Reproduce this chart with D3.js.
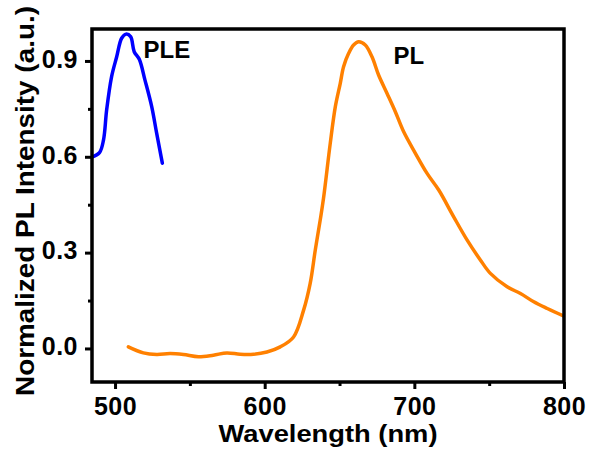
<!DOCTYPE html>
<html>
<head>
<meta charset="utf-8">
<script src="https://cdn.jsdelivr.net/npm/d3@7"></script>
<style>
  body { margin: 0; background: #fff; }
  text { font-family: "Liberation Sans", Arial, sans-serif; font-weight: bold; }
</style>
</head>
<body>
<div id="chart"></div>
<script>
// PLE spectrum (blue)
var pleWave = [484, 489.6, 492.3, 494.4, 497.7, 501.1, 504.4, 507.3, 510.4, 512.8, 516.2, 520, 524.5, 527.8, 531.6];
var pleInt  = [0.598, 0.613, 0.653, 0.747, 0.851, 0.913, 0.971, 0.984, 0.976, 0.929, 0.905, 0.840, 0.757, 0.674, 0.580];

// PL spectrum (orange)
var plWave = [508.9, 518.9, 527.9, 536.8, 545.7, 555.7, 565.7, 574.7, 583.6, 592.5, 601.5, 610.4, 619.3, 626, 630.4, 633.8,
  637.1, 639.3, 643.8, 647.2, 650.5, 652.7, 656.1, 659.4, 662.8, 667.2, 671.7, 676.1, 681.7, 687.3, 692.8, 700.7,
  708.5, 716.3, 726.3, 735.3, 744.1, 750.8, 762, 770.9, 779.8, 788.8, 800];
var plInt = [0.005, -0.014, -0.019, -0.016, -0.019, -0.026, -0.021, -0.014, -0.018, -0.018, -0.011, 0.005, 0.036, 0.120, 0.204, 0.308,
  0.402, 0.470, 0.642, 0.757, 0.830, 0.882, 0.924, 0.950, 0.960, 0.950, 0.913, 0.856, 0.799, 0.741, 0.679, 0.611,
  0.548, 0.496, 0.412, 0.339, 0.277, 0.235, 0.193, 0.172, 0.146, 0.125, 0.101];

var xTicks = [500, 600, 700, 800];
var xMinor = [550, 650, 750];
var yTicks = [0.0, 0.3, 0.6, 0.9];
var yMinor = [0.15, 0.45, 0.75];

// svg / plot box
var w = 589, h = 450;
var pLeft = 92, pRight = 564, pTop = 29, pBottom = 382;

var svg = d3.select("#chart").append("svg").attr("width", w).attr("height", h);

var x = d3.scaleLinear().domain([484.6, 800]).range([pLeft, pRight]);
var y = d3.scaleLinear().domain([-0.105, 1.0]).range([pBottom, pTop]);

svg.append("clipPath").attr("id", "clip")
  .append("rect").attr("x", pLeft).attr("y", pTop).attr("width", pRight - pLeft).attr("height", pBottom - pTop);

var line = d3.line()
  .x(function(d) { return x(d[0]); })
  .y(function(d) { return y(d[1]); })
  .curve(d3.curveCatmullRom);

var ple = d3.zip(pleWave, pleInt);
var pl = d3.zip(plWave, plInt);

var g = svg.append("g").attr("clip-path", "url(#clip)");
g.append("path").datum(pl)
  .attr("d", line).attr("fill", "none").attr("stroke", "#ff8000").attr("stroke-width", 3.5)
  .attr("stroke-linejoin", "round").attr("stroke-linecap", "round");
g.append("path").datum(ple)
  .attr("d", line).attr("fill", "none").attr("stroke", "#0000ff").attr("stroke-width", 3.5)
  .attr("stroke-linejoin", "round").attr("stroke-linecap", "round");

// axes (major + minor ticks)
svg.append("g").attr("transform", "translate(0," + pBottom + ")")
  .call(d3.axisBottom(x).tickValues(xTicks).tickFormat(d3.format("d")).tickSize(7).tickSizeOuter(0).tickPadding(8));
svg.append("g").attr("transform", "translate(0," + pBottom + ")")
  .call(d3.axisBottom(x).tickValues(xMinor).tickFormat("").tickSize(4).tickSizeOuter(0));

svg.append("g").attr("class", "yax").attr("transform", "translate(" + pLeft + ",0)")
  .call(d3.axisLeft(y).tickValues(yTicks).tickFormat(d3.format(".1f")).tickSize(7).tickSizeOuter(0).tickPadding(7));
svg.append("g").attr("transform", "translate(" + pLeft + ",0)")
  .call(d3.axisLeft(y).tickValues(yMinor).tickFormat("").tickSize(4).tickSizeOuter(0));

svg.selectAll(".domain").remove();
svg.selectAll(".tick line").attr("stroke", "#000").attr("stroke-width", 3);
svg.selectAll(".tick text").attr("fill", "#000")
  .style("font-size", "25px").style("font-weight", "bold").style("letter-spacing", "0.5px")
  .style("font-family", "Liberation Sans, Arial, sans-serif");
svg.selectAll(".yax .tick text").attr("dy", "0.25em");

// frame
svg.append("rect").attr("x", pLeft).attr("y", pTop).attr("width", pRight - pLeft).attr("height", pBottom - pTop)
  .attr("fill", "none").attr("stroke", "#000").attr("stroke-width", 3.5);

// series labels
svg.append("text").attr("x", x(519)).attr("y", 58).attr("font-size", 24).text("PLE");
svg.append("text").attr("x", x(686)).attr("y", 64).attr("font-size", 24).text("PL");

// axis titles
svg.append("text").attr("x", (pLeft + pRight) / 2).attr("y", 442).attr("text-anchor", "middle")
  .attr("font-size", 24).attr("textLength", 219).attr("lengthAdjust", "spacingAndGlyphs")
  .text("Wavelength (nm)");
svg.append("text").attr("transform", "translate(34,201) rotate(-90)").attr("text-anchor", "middle")
  .attr("font-size", 26).attr("textLength", 390).attr("lengthAdjust", "spacingAndGlyphs")
  .text("Normalized PL Intensity (a.u.)");
</script>
</body>
</html>
